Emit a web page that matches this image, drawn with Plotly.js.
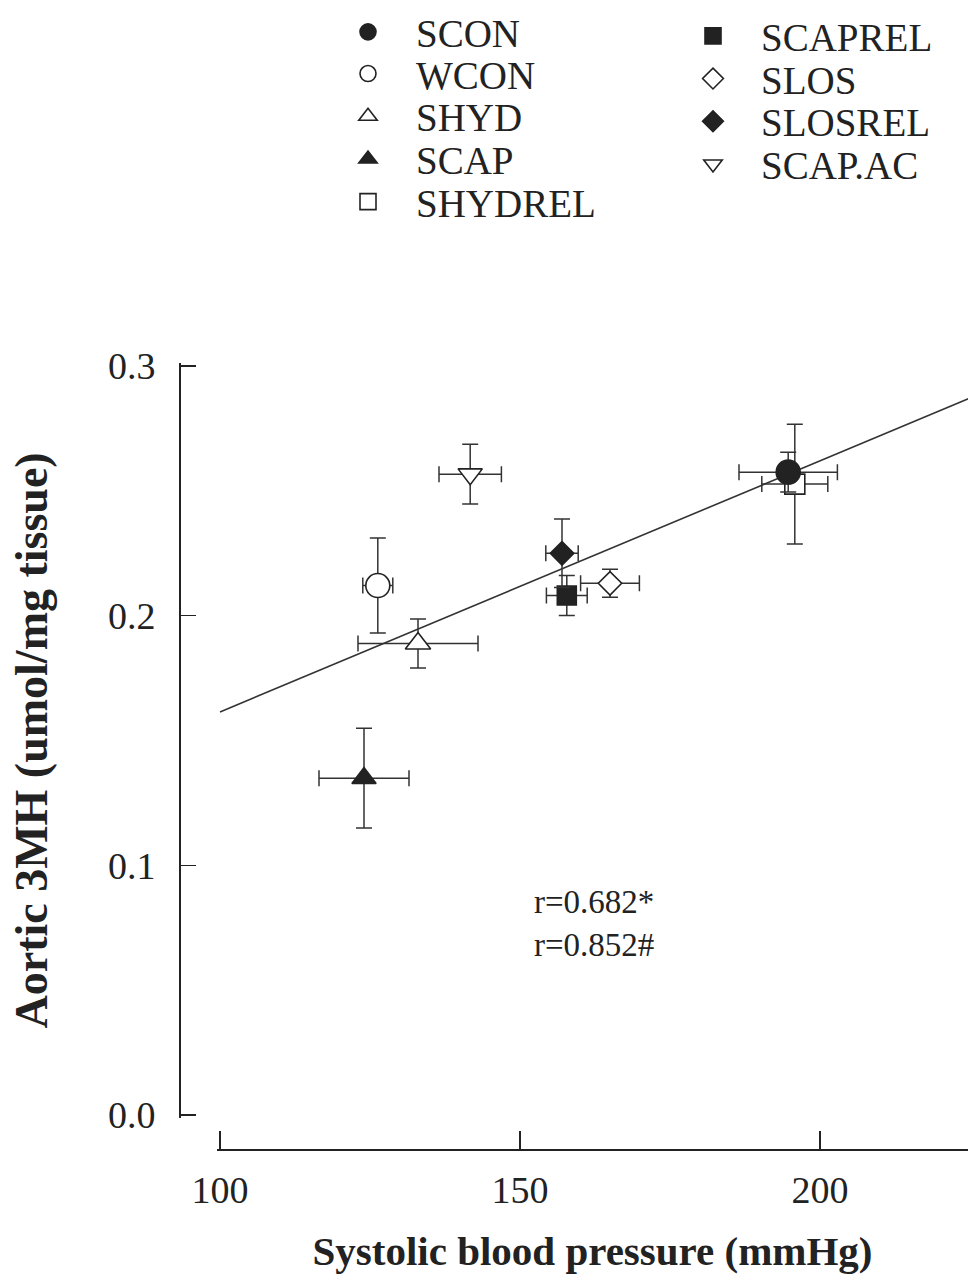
<!DOCTYPE html>
<html>
<head>
<meta charset="utf-8">
<script src="https://cdn.plot.ly/plotly-3.0.1.min.js"></script>
<style>
  html, body { margin: 0; padding: 0; background: #fff; }
  #chart { width: 968px; height: 1277px; }
</style>
</head>
<body>
<div id="chart"></div>
<script>
// Group means ± SEM: systolic blood pressure vs aortic 3-methylhistidine
const groups   = ['SCON', 'WCON', 'SHYD', 'SCAP', 'SHYDREL', 'SCAPREL', 'SLOS', 'SLOSREL', 'SCAP.AC'];
const sbp      = [194.7, 126.3, 133.0, 124.0, 195.8, 157.8, 165.0, 157.0, 141.7];
const sbpSem   = [8.2, 2.5, 10.0, 7.5, 5.5, 3.4, 4.9, 2.7, 5.2];
const mh3      = [0.2574, 0.2120, 0.1888, 0.1349, 0.2526, 0.2080, 0.2129, 0.2249, 0.2566];
const mh3Sem   = [0.0080, 0.0190, 0.0098, 0.0200, 0.0240, 0.0080, 0.0056, 0.0137, 0.0120];

// Regression line through the data
const fitSlope     = 0.001005;
const fitIntercept = 0.0609;
const fitSbp       = [100, 230];
const rLabels      = ['r=0.682*', 'r=0.852#'];

// Axis ticks
const xTicks = [100, 150, 200];
const yTicks = [0.0, 0.1, 0.2, 0.3];

// Marker styling per group
const symbols = ['circle', 'circle-open', 'triangle-up-open', 'triangle-up', 'square-open',
                 'square', 'diamond-open', 'diamond', 'triangle-down-open'];
const sizes   = [24, 24, 22, 21, 20, 19, 18, 18, 21];
// legend placement: [column, row]
const legendSlots = [[0,0],[0,1],[0,2],[0,3],[0,4],[1,0],[1,1],[1,2],[1,3]];

const INK = '#222';
const SERIF = '"Liberation Serif", "Times New Roman", serif';
const W = 968, H = 1277;

// pixel geometry of the frame
const PX_PER_MMHG = 6;          // 50 mmHg per 300 px
const X100_PX = 220;            // where 100 mmHg sits
const YAXIS_PX = 181;           // vertical axis line
const XAXIS_PX = 1150;          // horizontal axis line
const Y0_PX = 1115, Y03_PX = 365;
const xPad = 0.5, yPad = 0.0012;
const pxPerY = (Y0_PX - Y03_PX) / 0.3;

const xLeftPx = X100_PX - xPad * PX_PER_MMHG;
const xMax = 100 + (W - X100_PX) / PX_PER_MMHG;

const fitTrace = {
  x: fitSbp,
  y: fitSbp.map(v => fitIntercept + fitSlope * v),
  xaxis: 'x', yaxis: 'y',
  mode: 'lines',
  line: { color: '#333', width: 1.6 },
  showlegend: false,
  hoverinfo: 'skip'
};

function legendId(i) { return i === 0 ? 'legend' : 'legend' + (i + 1); }

const pointTraces = groups.map((name, i) => {
  const open = symbols[i].endsWith('-open');
  return {
    x: [sbp[i]],
    y: [mh3[i]],
    xaxis: 'x2', yaxis: 'y',
    name: name,
    legend: legendId(i),
    mode: 'markers',
    marker: {
      symbol: open ? symbols[i].replace('-open', '') : symbols[i],
      size: sizes[i],
      color: open ? '#fff' : INK,
      line: { color: INK, width: 1.6 }
    },
    error_x: { type: 'data', array: [sbpSem[i]], color: '#333', thickness: 1.5, width: 8 },
    error_y: { type: 'data', array: [mh3Sem[i]], color: '#333', thickness: 1.5, width: 8 }
  };
});

// SCON sits on top of SHYDREL, so draw it last
const drawOrder = [4, 1, 2, 3, 5, 6, 7, 8, 0];
const data = [fitTrace].concat(drawOrder.map(i => pointTraces[i]));

const tickFont = { family: SERIF, size: 38, color: INK };

const layout = {
  width: W,
  height: H,
  margin: { l: 0, r: 0, t: 0, b: 0 },
  paper_bgcolor: '#fff',
  plot_bgcolor: 'rgba(0,0,0,0)',
  font: { family: SERIF, color: INK },
  // carrier axis: spans from the vertical axis line, hidden
  xaxis: {
    domain: [YAXIS_PX / W, 1],
    range: [100 - (X100_PX - YAXIS_PX) / PX_PER_MMHG, xMax],
    anchor: 'y',
    visible: false
  },
  // drawn horizontal axis, offset below the frame
  xaxis2: {
    domain: [xLeftPx / W, 1],
    range: [100 - xPad, xMax],
    anchor: 'free',
    position: (H - XAXIS_PX) / H,
    showline: true, linecolor: INK, linewidth: 2,
    showgrid: false, zeroline: false,
    ticks: 'inside', ticklen: 18, tickwidth: 1.6, tickcolor: INK,
    tickvals: xTicks,
    tickfont: tickFont,
    ticklabelstandoff: 6,
    automargin: false,
    title: {
      text: 'Systolic blood pressure (mmHg)',
      font: { family: SERIF, size: 41, weight: 'bold', color: INK },
      standoff: 26
    }
  },
  yaxis: {
    domain: [(H - (Y0_PX + yPad * pxPerY)) / H, (H - (Y03_PX - yPad * pxPerY)) / H],
    range: [-yPad, 0.3 + yPad],
    anchor: 'x',
    showline: true, linecolor: INK, linewidth: 2,
    showgrid: false, zeroline: false,
    ticks: 'inside', ticklen: 15, tickwidth: 1.6, tickcolor: INK,
    tickvals: yTicks,
    tickformat: '.1f',
    tickfont: tickFont,
    ticklabelstandoff: 16,
    automargin: false,
    title: {
      text: 'Aortic 3MH (umol/mg tissue)',
      font: { family: SERIF, size: 46, weight: 'bold', color: INK },
      standoff: 46
    }
  },
  annotations: [{
    xref: 'x2', yref: 'y',
    x: 152, y: 0.0768,
    text: rLabels.join('<br>'),
    showarrow: false,
    align: 'left',
    xanchor: 'left', yanchor: 'middle',
    font: { family: SERIF, size: 33, color: INK }
  }]
};

// one small legend per entry, laid out in two columns
const colLeft = [320, 665];
const rowTop  = [31, 36];
const rowStep = 42.7;
groups.forEach((name, i) => {
  const [c, r] = legendSlots[i];
  layout[legendId(i)] = {
    x: colLeft[c] / W,
    y: 1 - (rowTop[c] + r * rowStep) / H,
    xanchor: 'left', yanchor: 'middle',
    xref: 'paper', yref: 'paper',
    bgcolor: 'rgba(0,0,0,0)',
    borderwidth: 0,
    itemwidth: 86,
    itemclick: false, itemdoubleclick: false,
    font: { family: SERIF, size: 39, color: INK }
  };
});

Plotly.newPlot('chart', data, layout, { displayModeBar: false, staticPlot: true });
</script>
</body>
</html>
